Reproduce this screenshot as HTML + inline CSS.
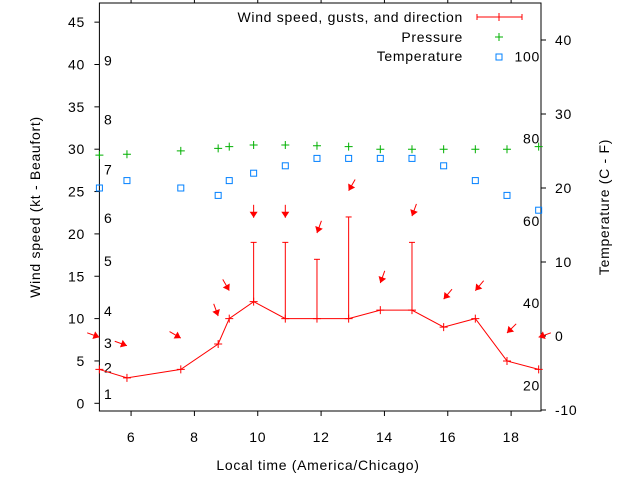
<!DOCTYPE html>
<html><head><meta charset="utf-8">
<style>
html,body{margin:0;padding:0;background:#fff;}
svg{display:block;font-family:"Liberation Sans",sans-serif;font-size:14px;letter-spacing:0.7px;}
</style></head>
<body>
<svg id="chart" width="640" height="480" viewBox="0 0 640 480">
<rect x="0" y="0" width="640" height="480" fill="#fff"/>
<g id="grid"></g>
</svg>
<script>
var times = [5.0, 5.87, 7.57, 8.75, 9.1, 9.87, 10.87, 11.87, 12.87, 13.87, 14.87, 15.87, 16.87, 17.87, 18.87];
var windSpeed = [4, 3, 4, 7, 10, 12, 10, 10, 10, 11, 11, 9, 10, 5, 4];
var gustTimes = [9.87, 10.87, 11.87, 12.87, 14.87];
var gustBase = [12, 10, 10, 10, 11];
var gustSpeed = [19, 19, 17, 22, 19];
var arrowLevel = [7.8, 6.8, 7.7, 10.3, 13.3, 21.9, 21.9, 20.1, 25.1, 14.2, 22.1, 12.3, 13.3, 8.3, 7.8];
var windDir = [290, 290, 300, 340, 330, 0, 0, 20, 30, 20, 20, 40, 40, 45, 70];
var pressure = [29.3, 29.4, 29.8, 30.1, 30.3, 30.5, 30.5, 30.4, 30.3, 30.0, 30.0, 30.0, 30.0, 30.0, 30.3];
var tempC = [20, 21, 20, 19, 21, 22, 23, 24, 24, 24, 24, 23, 21, 19, 17];
var xTicks = [6, 8, 10, 12, 14, 16, 18];
var yTicks = [0, 5, 10, 15, 20, 25, 30, 35, 40, 45];
var y2Ticks = [-10, 0, 10, 20, 30, 40];
var fTicks = [20, 40, 60, 80, 100];
var beaufort = [1, 2, 3, 4, 5, 6, 7, 8, 9];
var beaufortKt = [1.1, 4.2, 7.1, 10.9, 16.8, 21.9, 27.6, 33.5, 40.5];

var L = 99.4, R = 541, T = 3, B = 411;
function X(t){ return L + (t - 5) * 31.67; }
function Y(v){ return 403.3 - v * 8.47; }
function Y2(c){ return 336 - c * 7.4; }
var NS = "http://www.w3.org/2000/svg";
var svg = document.getElementById('chart');
function mk(tag, attrs, parent){
  var e = document.createElementNS(NS, tag);
  for (var k in attrs) e.setAttribute(k, attrs[k]);
  (parent || svg).appendChild(e);
  return e;
}
function txt(x, y, s, anchor, name){
  var e = mk('text', {x:x, y:y, 'text-anchor':anchor || 'middle', fill:'#000'});
  e.textContent = s;
  
  
  return e;
}

var fr = mk('rect', {x:L, y:T, width:R-L, height:B-T, fill:'none', stroke:'#000', 'stroke-width':1});



xTicks.forEach(function(t){
  var l = mk('line', {x1:X(t), x2:X(t), y1:B, y2:B+5, stroke:'#000'});
  
  
  var l2 = mk('line', {x1:X(t), x2:X(t), y1:T, y2:T-5, stroke:'#000'});
  
  
  txt(X(t), 442, String(t), 'middle', 'x-tick-label');
});
yTicks.forEach(function(v){
  var l = mk('line', {x1:L-5, x2:L, y1:Y(v), y2:Y(v), stroke:'#000'});
  
  
  txt(85, Y(v)+5, String(v), 'end', 'y-tick-label');
});
y2Ticks.forEach(function(c){
  var l = mk('line', {x1:R, x2:R+5, y1:Y2(c), y2:Y2(c), stroke:'#000'});
  
  
  txt(555, Y2(c)+5, String(c), 'start', 'y2-tick-label');
});
fTicks.forEach(function(f){
  txt(540, Y2((f-32)*5/9)+5, String(f), 'end', 'fahrenheit-label');
});
beaufort.forEach(function(b, i){
  txt(104, Y(beaufortKt[i])+5, String(b), 'start', 'beaufort-label');
});

var yt = txt(0, 0, 'Wind speed (kt - Beaufort)', 'middle', 'y-axis-title');
yt.setAttribute('transform', 'translate(40,207) rotate(-90)');
var y2t = txt(0, 0, 'Temperature (C - F)', 'middle', 'y2-axis-title');
y2t.setAttribute('transform', 'translate(609,207) rotate(-90)');
txt(318, 470, 'Local time (America/Chicago)', 'middle', 'x-axis-title');

gustTimes.forEach(function(t, i){
  var x = X(t);
  var g = mk('line', {x1:x, x2:x, y1:Y(gustBase[i]), y2:Y(gustSpeed[i]), stroke:'#f00'});
  
  
  var c = mk('line', {x1:x-3, x2:x+3, y1:Y(gustSpeed[i]), y2:Y(gustSpeed[i]), stroke:'#f00'});
  
  
});
var pts = times.map(function(t, i){ return X(t) + ',' + Y(windSpeed[i]); }).join(' ');
var wl = mk('polyline', {points:pts, fill:'none', stroke:'#f00', 'stroke-width':1});


times.forEach(function(t, i){
  var x = X(t), y = Y(windSpeed[i]);
  var p = mk('path', {d:'M'+(x-4)+' '+y+'H'+(x+4)+'M'+x+' '+(y-4)+'V'+(y+4), stroke:'#f00'});
  
  
});
times.forEach(function(t, i){
  var hx = X(t), hy = Y(arrowLevel[i]);
  var a = windDir[i] * Math.PI / 180;
  var dx = -Math.sin(a), dy = Math.cos(a);
  var len = 13;
  var tx = hx - dx*len, ty = hy - dy*len;
  var px = -dy, py = dx;
  var bx = hx - dx*6, by = hy - dy*6;
  var g = mk('g', {});
  
  
  mk('line', {x1:tx, y1:ty, x2:hx, y2:hy, stroke:'#f00'}, g);
  mk('polygon', {points: hx+','+hy+' '+(bx+px*4)+','+(by+py*4)+' '+(bx-px*4)+','+(by-py*4), fill:'#f00'}, g);
});
times.forEach(function(t, i){
  var x = X(t), y = Y(pressure[i]);
  var p = mk('path', {d:'M'+(x-4)+' '+y+'H'+(x+4)+'M'+x+' '+(y-4)+'V'+(y+4), stroke:'#00b000'});
  
  
});
times.forEach(function(t, i){
  var x = X(t), y = Y2(tempC[i]);
  var r = mk('rect', {x:x-3, y:y-3, width:6, height:6, fill:'none', stroke:'#0080ff'});
  
  
});

var lg = mk('g', {});


txt(463, 22, 'Wind speed, gusts, and direction', 'end', 'legend-wind-label');
txt(463, 42, 'Pressure', 'end', 'legend-pressure-label');
txt(463, 61, 'Temperature', 'end', 'legend-temperature-label');
var ls = mk('path', {d:'M477 17H522M477 14V20M522 14V20M499 13V21', stroke:'#f00'}, lg);


var lp = mk('path', {d:'M495 37H503M499 33V41', stroke:'#00b000'}, lg);


var lt = mk('rect', {x:496, y:54, width:6, height:6, fill:'none', stroke:'#0080ff'}, lg);


</script>
</body></html>
